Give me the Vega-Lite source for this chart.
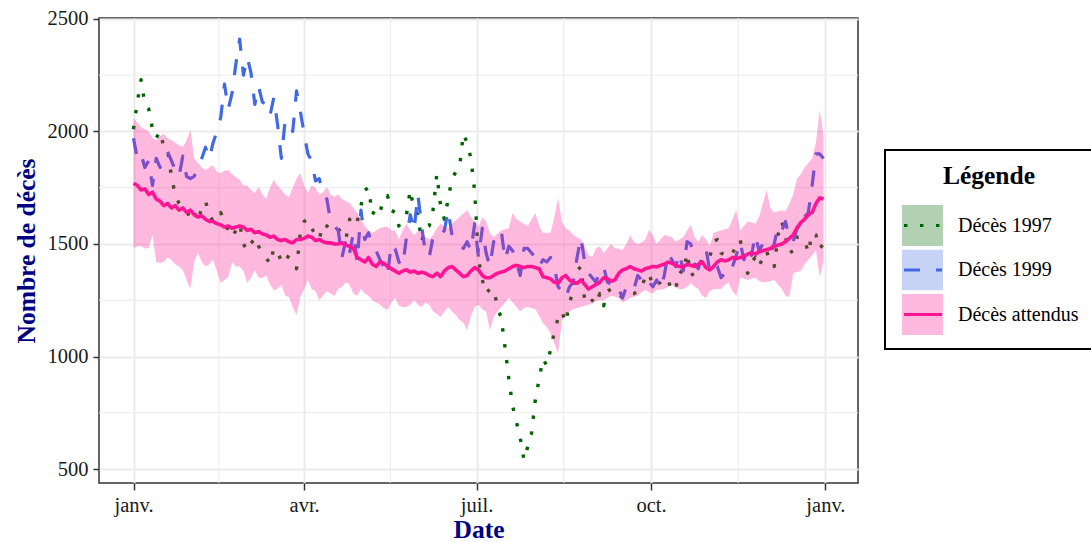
{
  "$schema": "https://vega.github.io/schema/vega-lite/v6.json",
  "width": 759,
  "height": 465,
  "autosize": {"type": "none"},
  "padding": {"left": 99, "top": 18, "right": 233, "bottom": 59},
  "background": "white",
  "config": {
    "font": "Liberation Serif",
    "view": {"stroke": "#333333", "strokeWidth": 1.5},
    "axis": {
      "domain": false,
      "grid": true,
      "gridColor": "#ebebeb",
      "gridWidth": 2,
      "tickColor": "#333333",
      "tickWidth": 1.5,
      "labelFont": "Liberation Serif",
      "labelFontSize": 20.5,
      "labelColor": "#1a1a1a",
      "labelOverlap": false,
      "titleFont": "Liberation Serif",
      "titleFontSize": 25.5,
      "titleFontWeight": "bold",
      "titleColor": "#000080"
    },
    "legend": {"strokeWidth": 2}
  },
  "datasets": {
    "deces": [
      {"j":0,"a":2010,"b":1970,"e":1770,"l":1482,"h":2060},
      {"j":2,"a":2130,"b":1880,"e":1760,"l":1490,"h":2040},
      {"j":4,"a":2230,"b":1900,"e":1740,"l":1490,"h":2020},
      {"j":6,"a":2120,"b":1840,"e":1745,"l":1480,"h":2010},
      {"j":8,"a":2100,"b":1870,"e":1720,"l":1482,"h":2000},
      {"j":10,"a":2010,"b":1760,"e":1730,"l":1540,"h":1970},
      {"j":12,"a":1970,"b":1880,"e":1700,"l":1420,"h":1960},
      {"j":14,"a":2000,"b":1840,"e":1690,"l":1415,"h":1980},
      {"j":16,"a":1930,"b":1870,"e":1670,"l":1420,"h":1990},
      {"j":18,"a":1920,"b":1910,"e":1680,"l":1440,"h":1970},
      {"j":20,"a":1800,"b":1870,"e":1660,"l":1430,"h":1962},
      {"j":22,"a":1720,"b":1830,"e":1670,"l":1410,"h":1950},
      {"j":24,"a":1680,"b":1800,"e":1650,"l":1400,"h":1940},
      {"j":26,"a":1660,"b":1890,"e":1660,"l":1384,"h":1931},
      {"j":28,"a":1650,"b":1800,"e":1640,"l":1340,"h":1960},
      {"j":30,"a":1610,"b":1790,"e":1650,"l":1300,"h":2007},
      {"j":32,"a":1640,"b":1800,"e":1630,"l":1420,"h":1880},
      {"j":34,"a":1600,"b":1840,"e":1620,"l":1460,"h":1860},
      {"j":36,"a":1660,"b":1880,"e":1625,"l":1420,"h":1840},
      {"j":38,"a":1690,"b":1930,"e":1610,"l":1400,"h":1829},
      {"j":40,"a":1630,"b":1880,"e":1600,"l":1410,"h":1840},
      {"j":42,"a":1600,"b":1950,"e":1600,"l":1430,"h":1850},
      {"j":44,"a":1610,"b":2000,"e":1590,"l":1380,"h":1820},
      {"j":46,"a":1640,"b":2060,"e":1585,"l":1327,"h":1815},
      {"j":48,"a":1600,"b":2210,"e":1575,"l":1340,"h":1825},
      {"j":50,"a":1560,"b":2100,"e":1580,"l":1353,"h":1829},
      {"j":52,"a":1530,"b":2170,"e":1570,"l":1420,"h":1810},
      {"j":54,"a":1560,"b":2300,"e":1575,"l":1400,"h":1798},
      {"j":56,"a":1590,"b":2410,"e":1580,"l":1400,"h":1784},
      {"j":58,"a":1500,"b":2250,"e":1575,"l":1380,"h":1760},
      {"j":60,"a":1470,"b":2330,"e":1560,"l":1327,"h":1760},
      {"j":62,"a":1500,"b":2260,"e":1565,"l":1350,"h":1740},
      {"j":64,"a":1530,"b":2120,"e":1550,"l":1384,"h":1727},
      {"j":66,"a":1490,"b":2200,"e":1555,"l":1350,"h":1753},
      {"j":68,"a":1460,"b":2130,"e":1545,"l":1350,"h":1720},
      {"j":70,"a":1440,"b":2120,"e":1540,"l":1360,"h":1700},
      {"j":72,"a":1410,"b":2070,"e":1530,"l":1320,"h":1750},
      {"j":74,"a":1480,"b":2150,"e":1535,"l":1296,"h":1784},
      {"j":76,"a":1470,"b":2030,"e":1520,"l":1300,"h":1760},
      {"j":78,"a":1420,"b":1880,"e":1515,"l":1320,"h":1740},
      {"j":80,"a":1450,"b":2050,"e":1520,"l":1270,"h":1720},
      {"j":82,"a":1440,"b":2040,"e":1510,"l":1264,"h":1709},
      {"j":84,"a":1430,"b":2000,"e":1505,"l":1220,"h":1750},
      {"j":86,"a":1390,"b":2180,"e":1520,"l":1184,"h":1790},
      {"j":88,"a":1550,"b":2090,"e":1520,"l":1264,"h":1815},
      {"j":90,"a":1600,"b":1990,"e":1525,"l":1300,"h":1760},
      {"j":92,"a":1610,"b":1900,"e":1535,"l":1340,"h":1727},
      {"j":94,"a":1570,"b":1870,"e":1530,"l":1300,"h":1760},
      {"j":96,"a":1540,"b":1780,"e":1515,"l":1290,"h":1750},
      {"j":98,"a":1520,"b":1790,"e":1520,"l":1251,"h":1720},
      {"j":100,"a":1590,"b":1720,"e":1510,"l":1270,"h":1730},
      {"j":102,"a":1580,"b":1700,"e":1505,"l":1290,"h":1753},
      {"j":104,"a":1560,"b":1600,"e":1505,"l":1280,"h":1720},
      {"j":106,"a":1560,"b":1580,"e":1500,"l":1270,"h":1709},
      {"j":108,"a":1570,"b":1560,"e":1500,"l":1300,"h":1720},
      {"j":110,"a":1540,"b":1440,"e":1505,"l":1310,"h":1700},
      {"j":112,"a":1520,"b":1520,"e":1495,"l":1330,"h":1690},
      {"j":114,"a":1610,"b":1460,"e":1490,"l":1320,"h":1682},
      {"j":116,"a":1580,"b":1550,"e":1480,"l":1280,"h":1660},
      {"j":118,"a":1600,"b":1420,"e":1440,"l":1270,"h":1640},
      {"j":120,"a":1670,"b":1650,"e":1430,"l":1300,"h":1607},
      {"j":122,"a":1740,"b":1520,"e":1420,"l":1280,"h":1580},
      {"j":124,"a":1750,"b":1550,"e":1440,"l":1270,"h":1560},
      {"j":126,"a":1630,"b":1490,"e":1410,"l":1250,"h":1549},
      {"j":128,"a":1660,"b":1470,"e":1400,"l":1240,"h":1560},
      {"j":130,"a":1640,"b":1430,"e":1420,"l":1230,"h":1570},
      {"j":132,"a":1700,"b":1400,"e":1415,"l":1215,"h":1575},
      {"j":134,"a":1715,"b":1360,"e":1400,"l":1207,"h":1576},
      {"j":136,"a":1650,"b":1500,"e":1390,"l":1240,"h":1560},
      {"j":138,"a":1640,"b":1480,"e":1380,"l":1260,"h":1560},
      {"j":140,"a":1580,"b":1420,"e":1370,"l":1225,"h":1520},
      {"j":142,"a":1610,"b":1400,"e":1380,"l":1220,"h":1560},
      {"j":144,"a":1630,"b":1530,"e":1385,"l":1220,"h":1590},
      {"j":146,"a":1740,"b":1630,"e":1375,"l":1230,"h":1560},
      {"j":148,"a":1650,"b":1560,"e":1380,"l":1251,"h":1540},
      {"j":150,"a":1630,"b":1720,"e":1370,"l":1230,"h":1555},
      {"j":152,"a":1510,"b":1580,"e":1375,"l":1220,"h":1560},
      {"j":154,"a":1570,"b":1460,"e":1370,"l":1240,"h":1530},
      {"j":156,"a":1580,"b":1440,"e":1360,"l":1230,"h":1520},
      {"j":158,"a":1650,"b":1530,"e":1355,"l":1200,"h":1540},
      {"j":160,"a":1810,"b":1520,"e":1370,"l":1190,"h":1570},
      {"j":162,"a":1670,"b":1540,"e":1355,"l":1175,"h":1590},
      {"j":164,"a":1610,"b":1560,"e":1380,"l":1200,"h":1575},
      {"j":166,"a":1700,"b":1650,"e":1395,"l":1220,"h":1570},
      {"j":168,"a":1790,"b":1540,"e":1400,"l":1200,"h":1590},
      {"j":170,"a":1820,"b":1510,"e":1385,"l":1185,"h":1605},
      {"j":172,"a":1840,"b":1500,"e":1370,"l":1162,"h":1620},
      {"j":174,"a":1990,"b":1480,"e":1355,"l":1150,"h":1635},
      {"j":176,"a":1950,"b":1510,"e":1360,"l":1118,"h":1651},
      {"j":178,"a":1880,"b":1470,"e":1380,"l":1180,"h":1620},
      {"j":180,"a":1730,"b":1590,"e":1395,"l":1220,"h":1600},
      {"j":182,"a":1430,"b":1440,"e":1385,"l":1230,"h":1576},
      {"j":184,"a":1340,"b":1570,"e":1360,"l":1210,"h":1620},
      {"j":186,"a":1280,"b":1460,"e":1350,"l":1200,"h":1600},
      {"j":188,"a":1300,"b":1400,"e":1350,"l":1118,"h":1550},
      {"j":190,"a":1300,"b":1510,"e":1360,"l":1175,"h":1530},
      {"j":192,"a":1220,"b":1520,"e":1370,"l":1200,"h":1545},
      {"j":194,"a":1170,"b":1560,"e":1375,"l":1220,"h":1560},
      {"j":196,"a":1040,"b":1430,"e":1380,"l":1240,"h":1565},
      {"j":198,"a":900,"b":1490,"e":1390,"l":1260,"h":1570},
      {"j":200,"a":780,"b":1470,"e":1400,"l":1240,"h":1638},
      {"j":202,"a":710,"b":1420,"e":1405,"l":1220,"h":1610},
      {"j":204,"a":640,"b":1360,"e":1400,"l":1200,"h":1600},
      {"j":206,"a":540,"b":1480,"e":1395,"l":1215,"h":1590},
      {"j":208,"a":600,"b":1480,"e":1400,"l":1220,"h":1580},
      {"j":210,"a":660,"b":1460,"e":1400,"l":1215,"h":1610},
      {"j":212,"a":810,"b":1440,"e":1395,"l":1210,"h":1638},
      {"j":214,"a":900,"b":1400,"e":1390,"l":1180,"h":1580},
      {"j":216,"a":990,"b":1430,"e":1355,"l":1149,"h":1550},
      {"j":218,"a":960,"b":1420,"e":1350,"l":1130,"h":1550},
      {"j":220,"a":1030,"b":1440,"e":1345,"l":1104,"h":1550},
      {"j":222,"a":1110,"b":1400,"e":1330,"l":1060,"h":1620},
      {"j":224,"a":1170,"b":1310,"e":1325,"l":1015,"h":1704},
      {"j":226,"a":1200,"b":1290,"e":1350,"l":1160,"h":1600},
      {"j":228,"a":1150,"b":1260,"e":1360,"l":1180,"h":1570},
      {"j":230,"a":1240,"b":1310,"e":1340,"l":1200,"h":1560},
      {"j":232,"a":1290,"b":1330,"e":1330,"l":1210,"h":1540},
      {"j":234,"a":1380,"b":1440,"e":1325,"l":1215,"h":1530},
      {"j":236,"a":1400,"b":1530,"e":1340,"l":1220,"h":1520},
      {"j":238,"a":1250,"b":1420,"e":1320,"l":1225,"h":1490},
      {"j":240,"a":1230,"b":1370,"e":1300,"l":1230,"h":1450},
      {"j":242,"a":1250,"b":1350,"e":1310,"l":1235,"h":1442},
      {"j":244,"a":1230,"b":1330,"e":1320,"l":1245,"h":1480},
      {"j":246,"a":1280,"b":1380,"e":1330,"l":1250,"h":1490},
      {"j":248,"a":1225,"b":1400,"e":1350,"l":1250,"h":1460},
      {"j":250,"a":1290,"b":1330,"e":1345,"l":1260,"h":1480},
      {"j":252,"a":1300,"b":1320,"e":1335,"l":1270,"h":1500},
      {"j":254,"a":1280,"b":1290,"e":1340,"l":1265,"h":1480},
      {"j":256,"a":1280,"b":1300,"e":1370,"l":1260,"h":1480},
      {"j":258,"a":1260,"b":1260,"e":1385,"l":1240,"h":1473},
      {"j":260,"a":1280,"b":1310,"e":1390,"l":1250,"h":1500},
      {"j":262,"a":1280,"b":1320,"e":1400,"l":1260,"h":1540},
      {"j":264,"a":1280,"b":1300,"e":1390,"l":1265,"h":1510},
      {"j":266,"a":1290,"b":1360,"e":1385,"l":1270,"h":1500},
      {"j":268,"a":1300,"b":1340,"e":1380,"l":1285,"h":1505},
      {"j":270,"a":1360,"b":1360,"e":1390,"l":1296,"h":1520},
      {"j":272,"a":1370,"b":1330,"e":1395,"l":1285,"h":1562},
      {"j":274,"a":1310,"b":1310,"e":1400,"l":1280,"h":1540},
      {"j":276,"a":1320,"b":1340,"e":1398,"l":1296,"h":1500},
      {"j":278,"a":1330,"b":1300,"e":1405,"l":1298,"h":1520},
      {"j":280,"a":1350,"b":1360,"e":1410,"l":1300,"h":1540},
      {"j":282,"a":1340,"b":1460,"e":1420,"l":1310,"h":1535},
      {"j":284,"a":1290,"b":1430,"e":1415,"l":1320,"h":1530},
      {"j":286,"a":1300,"b":1400,"e":1405,"l":1305,"h":1510},
      {"j":288,"a":1380,"b":1460,"e":1400,"l":1300,"h":1520},
      {"j":290,"a":1370,"b":1380,"e":1398,"l":1300,"h":1530},
      {"j":292,"a":1460,"b":1510,"e":1410,"l":1310,"h":1560},
      {"j":294,"a":1360,"b":1500,"e":1405,"l":1327,"h":1584},
      {"j":296,"a":1370,"b":1410,"e":1400,"l":1310,"h":1530},
      {"j":298,"a":1390,"b":1390,"e":1410,"l":1300,"h":1510},
      {"j":300,"a":1430,"b":1450,"e":1420,"l":1270,"h":1540},
      {"j":302,"a":1420,"b":1480,"e":1395,"l":1260,"h":1520},
      {"j":304,"a":1440,"b":1380,"e":1385,"l":1290,"h":1490},
      {"j":306,"a":1510,"b":1410,"e":1400,"l":1300,"h":1550},
      {"j":308,"a":1520,"b":1400,"e":1420,"l":1300,"h":1555},
      {"j":310,"a":1460,"b":1350,"e":1430,"l":1300,"h":1560},
      {"j":312,"a":1450,"b":1370,"e":1425,"l":1320,"h":1565},
      {"j":314,"a":1440,"b":1360,"e":1430,"l":1327,"h":1570},
      {"j":316,"a":1460,"b":1400,"e":1440,"l":1290,"h":1610},
      {"j":318,"a":1490,"b":1450,"e":1435,"l":1270,"h":1651},
      {"j":320,"a":1520,"b":1510,"e":1440,"l":1350,"h":1560},
      {"j":322,"a":1440,"b":1430,"e":1445,"l":1345,"h":1580},
      {"j":324,"a":1370,"b":1490,"e":1455,"l":1340,"h":1600},
      {"j":326,"a":1420,"b":1450,"e":1460,"l":1345,"h":1595},
      {"j":328,"a":1440,"b":1540,"e":1455,"l":1350,"h":1590},
      {"j":330,"a":1400,"b":1470,"e":1465,"l":1335,"h":1620},
      {"j":332,"a":1440,"b":1500,"e":1470,"l":1330,"h":1680},
      {"j":334,"a":1470,"b":1470,"e":1475,"l":1330,"h":1740},
      {"j":336,"a":1410,"b":1460,"e":1480,"l":1335,"h":1660},
      {"j":338,"a":1400,"b":1500,"e":1490,"l":1340,"h":1640},
      {"j":340,"a":1540,"b":1580,"e":1495,"l":1320,"h":1645},
      {"j":342,"a":1600,"b":1560,"e":1500,"l":1300,"h":1650},
      {"j":344,"a":1530,"b":1600,"e":1510,"l":1270,"h":1645},
      {"j":346,"a":1460,"b":1520,"e":1525,"l":1264,"h":1680},
      {"j":348,"a":1470,"b":1510,"e":1540,"l":1370,"h":1720},
      {"j":350,"a":1530,"b":1570,"e":1570,"l":1375,"h":1790},
      {"j":352,"a":1530,"b":1630,"e":1595,"l":1380,"h":1810},
      {"j":354,"a":1520,"b":1620,"e":1610,"l":1410,"h":1840},
      {"j":356,"a":1460,"b":1640,"e":1630,"l":1430,"h":1860},
      {"j":358,"a":1550,"b":1760,"e":1640,"l":1450,"h":1880},
      {"j":360,"a":1540,"b":1900,"e":1680,"l":1473,"h":1950},
      {"j":362,"a":1480,"b":1900,"e":1705,"l":1353,"h":2095},
      {"j":364,"a":1500,"b":1880,"e":1700,"l":1420,"h":1980}
    ],
    "grilleMineureY": [{"n": 750}, {"n": 1250}, {"n": 1750}, {"n": 2250}],
    "grilleMineureX": [{"j": 45}, {"j": 135.5}, {"j": 227}, {"j": 319}]
  },
  "layer": [
    {
      "data": {"name": "grilleMineureY"},
      "mark": {"type": "rule", "color": "#ebebeb", "strokeWidth": 1},
      "encoding": {
        "y": {
          "field": "n", "type": "quantitative", "title": "Nombre de décès",
          "scale": {"domain": [438, 2504], "nice": false, "zero": false},
          "axis": {"values": [500, 1000, 1500, 2000, 2500], "format": "d", "tickSize": 6, "labelPadding": 5, "titleX": -60}
        }
      }
    },
    {
      "data": {"name": "grilleMineureX"},
      "mark": {"type": "rule", "color": "#ebebeb", "strokeWidth": 1},
      "encoding": {
        "x": {
          "field": "j", "type": "quantitative", "title": "Date",
          "scale": {"domain": [-18.2, 382.2], "nice": false, "zero": false},
          "axis": {
            "values": [0, 90, 181, 273, 365],
            "labelExpr": "datum.value == 90 ? 'avr.' : datum.value == 181 ? 'juil.' : datum.value == 273 ? 'oct.' : 'janv.'",
            "tickSize": 7, "labelPadding": 5, "titleY": 34
          }
        }
      }
    },
    {
      "data": {"name": "deces"},
      "mark": {"type": "line", "strokeWidth": 3.4, "strokeCap": "butt", "strokeJoin": "round"},
      "encoding": {
        "x": {"field": "j", "type": "quantitative", "title": "Date", "scale": {"domain": [-18.2, 382.2], "nice": false, "zero": false}},
        "y": {"field": "a", "type": "quantitative", "title": "Nombre de décès", "scale": {"domain": [438, 2504], "nice": false, "zero": false}},
        "stroke": {
          "datum": "Décès 1997",
          "scale": {"domain": ["Décès 1997", "Décès 1999", "Décès attendus"], "range": ["#006400", "#4169e1", "#ff1493"]},
          "legend": {
            "orient": "none", "legendX": 800, "legendY": 187, "zindex": 1,
            "title": null, "labelExpr": "''",
            "symbolType": "stroke", "symbolSize": 1444, "symbolStrokeWidth": 3.2, "symbolOffset": 3,
            "labelFontSize": 20, "labelOffset": 15,
            "clipHeight": 41, "rowPadding": 3.5, "padding": 0
          }
        },
        "strokeDash": {
          "datum": "Décès 1997",
          "scale": {"domain": ["Décès 1997", "Décès 1999", "Décès attendus"], "range": [[3.4, 12.6], [16, 16], [1, 0]]},
          "legend": {
            "orient": "none", "legendX": 800, "legendY": 187, "zindex": 1,
            "title": null, "labelExpr": "''",
            "symbolType": "stroke", "symbolSize": 1444, "symbolStrokeWidth": 3.2, "symbolOffset": 3,
            "labelFontSize": 20, "labelOffset": 15,
            "clipHeight": 41, "rowPadding": 3.5, "padding": 0
          }
        }
      }
    },
    {
      "data": {"name": "deces"},
      "mark": {"type": "line", "strokeWidth": 3.2, "strokeCap": "butt", "strokeJoin": "round"},
      "encoding": {
        "x": {"field": "j", "type": "quantitative", "title": "Date", "scale": {"domain": [-18.2, 382.2], "nice": false, "zero": false}},
        "y": {"field": "b", "type": "quantitative", "title": "Nombre de décès", "scale": {"domain": [438, 2504], "nice": false, "zero": false}},
        "stroke": {"datum": "Décès 1999"},
        "strokeDash": {"datum": "Décès 1999"}
      }
    },
    {
      "data": {"name": "deces"},
      "mark": {"type": "area", "opacity": 0.3},
      "encoding": {
        "x": {"field": "j", "type": "quantitative", "title": "Date", "scale": {"domain": [-18.2, 382.2], "nice": false, "zero": false}},
        "y": {"field": "l", "type": "quantitative", "title": "Nombre de décès", "scale": {"domain": [438, 2504], "nice": false, "zero": false}},
        "y2": {"field": "h"},
        "fill": {
          "datum": "Décès attendus",
          "scale": {"domain": ["Décès attendus", "Décès 1997", "Décès 1999"], "range": ["#ff1493", "#006400", "#4169e1"]},
          "legend": {
            "orient": "none", "legendX": 786, "legendY": 132, "zindex": 0,
            "values": ["Décès 1997", "Décès 1999", "Décès attendus"],
            "title": "Légende", "titleFont": "Liberation Serif", "titleFontSize": 25.5, "titleFontWeight": "bold", "titleColor": "#000000", "titleAnchor": "middle", "titlePadding": 15.5,
            "symbolType": "square", "symbolSize": 1681, "symbolOpacity": 0.3, "symbolStrokeWidth": 0, "symbolOffset": 3,
            "labelFont": "Liberation Serif", "labelFontSize": 20, "labelColor": "#000000", "labelOffset": 15, "labelLimit": 400,
            "clipHeight": 41, "rowPadding": 3.5, "padding": 14,
            "strokeColor": "#000000", "fillColor": "#ffffff"
          }
        }
      }
    },
    {
      "data": {"name": "deces"},
      "mark": {"type": "line", "strokeWidth": 3.6, "strokeCap": "butt", "strokeJoin": "round"},
      "encoding": {
        "x": {"field": "j", "type": "quantitative", "title": "Date", "scale": {"domain": [-18.2, 382.2], "nice": false, "zero": false}},
        "y": {"field": "e", "type": "quantitative", "title": "Nombre de décès", "scale": {"domain": [438, 2504], "nice": false, "zero": false}},
        "stroke": {"datum": "Décès attendus"},
        "strokeDash": {"datum": "Décès attendus"}
      }
    }
  ]
}
